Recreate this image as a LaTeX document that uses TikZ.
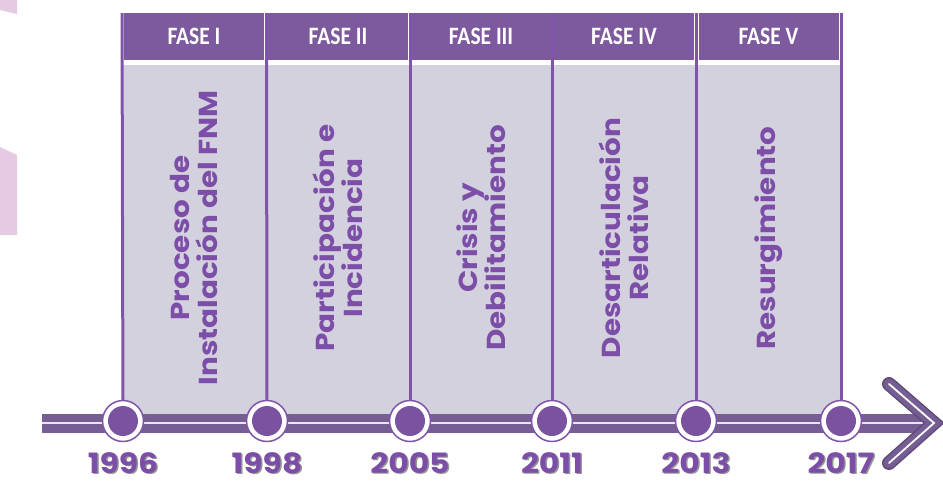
\documentclass[tikz,border=0pt]{standalone}
\usepackage{fontspec}
\usetikzlibrary{positioning}
\newfontfamily\phasefont[FakeStretch=1.13]{Poppins}
\newfontfamily\headfont[FakeStretch=0.86]{Carlito}
\newfontfamily\yearfont[FakeStretch=1.12]{Poppins}
\definecolor{headpurple}{RGB}{125,90,158}
\definecolor{rulepurple}{RGB}{128,84,168}
\definecolor{bodygray}{RGB}{211,209,222}
\definecolor{textpurple}{RGB}{124,78,168}
\definecolor{dotpurple}{RGB}{123,82,160}
\definecolor{barpurple}{RGB}{118,94,148}
\definecolor{sidepink}{RGB}{230,202,228}
\definecolor{yearshadow}{RGB}{150,150,150}
\newcommand{\yearlbl}[1]{\rlap{\hspace{1.5pt}\raisebox{-1.5pt}{\textcolor{yearshadow}{#1}}}#1}

\begin{document}
\begin{tikzpicture}[x=1pt, y=-1pt,
    head/.style={fill=headpurple, text=white, minimum width=140pt, minimum height=47pt, inner sep=0pt, font=\headfont\bfseries\fontsize{25}{25}\selectfont},
    phase/.style={rotate=90, text=textpurple, align=center, inner sep=0pt, font=\phasefont\bfseries\fontsize{26}{28}\selectfont},
    milestone/.style={circle, draw=rulepurple, line width=1.5pt, fill=white, minimum size=41pt, inner sep=0pt,
        path picture={\fill[dotpurple] (path picture bounding box.center) circle (15pt);}},
    yearlabel/.style={text=textpurple, inner sep=0pt, font=\yearfont\bfseries\fontsize{28}{28}\selectfont},
    divider/.style={rulepurple, line width=3pt}]
    \useasboundingbox (0,0) rectangle (943,491);
    % side decoration
    \fill[sidepink] (0,0) -- (17,0) -- (17,14) -- (0,10) -- cycle;
    \fill[sidepink] (0,147) -- (17,155) -- (17,235) -- (0,235) -- cycle;
    % phase columns
    \fill[bodygray] (122,65) rectangle (841,416);
    \node[head] (h1) at (194,36.5) {FASE I};
    \node[head] (h2) at (338,36.5) {FASE II};
    \node[head] (h3) at (481,36.5) {FASE III};
    \node[head] (h4) at (624,36.5) {FASE IV};
    \node[head] (h5) at (768.5,36.5) {FASE V};
    % time axis
    \coordinate (barstart) at (42,423);
    \coordinate (bartip) at (928,423);
    \draw[barpurple, line width=19pt] (barstart) -- (bartip);
    \draw[white!85!barpurple, line width=2pt] (barstart) -- (bartip);
    \coordinate (chevtop) at (889,384);
    \coordinate (chevtip) at (934,423);
    \coordinate (chevbot) at (889,463);
    \draw[barpurple!80!black, line width=14pt, line cap=round] (chevtop) -- (chevtip) -- (chevbot);
    \draw[barpurple, line width=11pt, line cap=round] (chevtop) -- (chevtip) -- (chevbot);
    \draw[white, line width=1.8pt, line cap=round] (chevtop) -- (chevtip) -- (chevbot);
    \node[milestone] (m1) at (123,421) {};
    \node[milestone] (m2) at (267,421) {};
    \node[milestone] (m3) at (410,421) {};
    \node[milestone] (m4) at (552,421) {};
    \node[milestone] (m5) at (696,421) {};
    \node[milestone] (m6) at (841,421) {};
    \coordinate (d1) at (122,13);
    \coordinate (d2) at (266.5,13);
    \coordinate (d3) at (410,13);
    \coordinate (d4) at (552,13);
    \coordinate (d5) at (696,13);
    \coordinate (d6) at (841,13);
    \draw[divider] (d1) -- (m1);
    \draw[divider] (d2) -- (m2);
    \draw[divider] (d3) -- (m3);
    \draw[divider] (d4) -- (m4);
    \draw[divider] (d5) -- (m5);
    \draw[divider] (d6) -- (m6);
    % phase names
    \node[phase] (p1) at (194,238) {Proceso de\\Instalación del FNM};
    \node[phase] (p2) at (338,238) {Participación e\\Incidencia};
    \node[phase] (p3) at (481,238) {Crisis y\\Debilitamiento};
    \node[phase] (p4) at (624,238) {Desarticulación\\Relativa};
    \node[phase] (p5) at (768.5,238) {Resurgimiento};
    % years
    \node[yearlabel, below=10pt of m1] (y1) {\yearlbl{1996}};
    \node[yearlabel, below=10pt of m2] (y2) {\yearlbl{1998}};
    \node[yearlabel, below=10pt of m3] (y3) {\yearlbl{2005}};
    \node[yearlabel, below=10pt of m4] (y4) {\yearlbl{2011}};
    \node[yearlabel, below=10pt of m5] (y5) {\yearlbl{2013}};
    \node[yearlabel, below=10pt of m6] (y6) {\yearlbl{2017}};
\end{tikzpicture}
\end{document}
